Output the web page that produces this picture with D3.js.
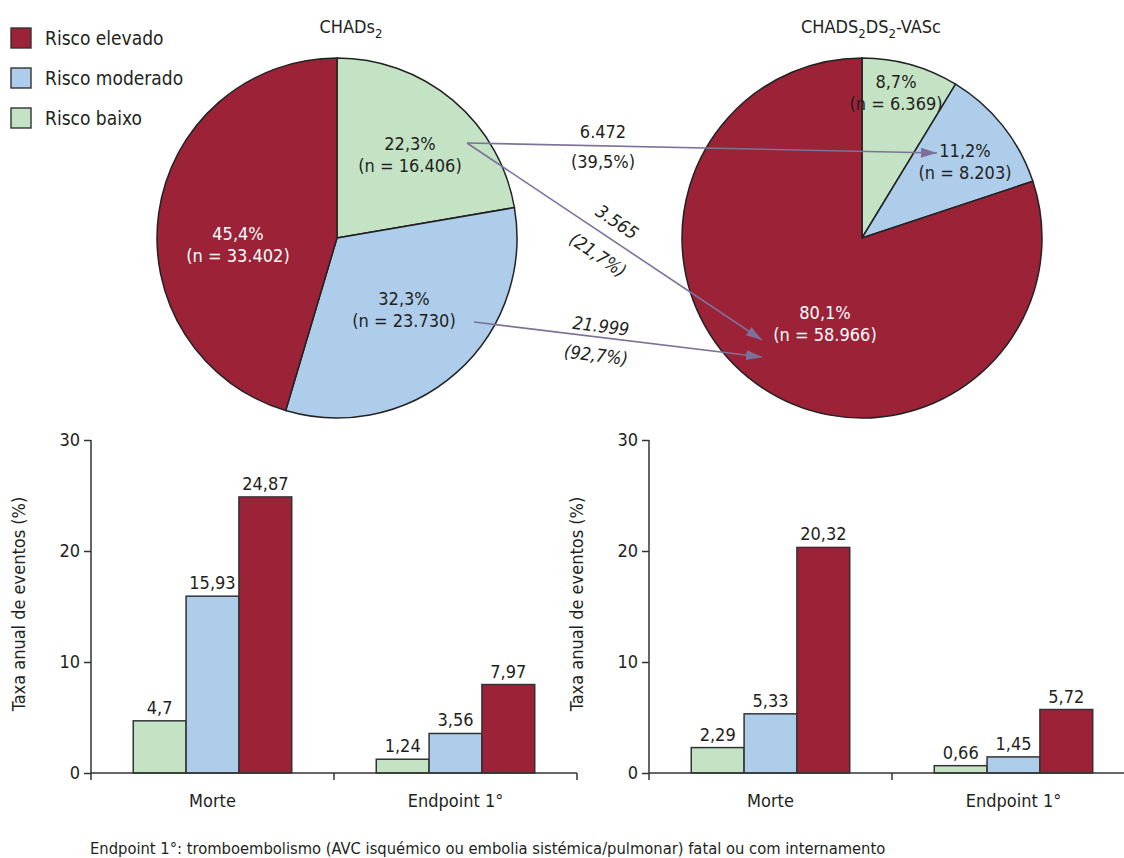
<!DOCTYPE html>
<html>
<head>
<meta charset="utf-8">
<script src="https://cdn.jsdelivr.net/npm/d3@7"></script>
<style>
  html, body { margin: 0; padding: 0; background: #fff; }
  svg { display: block; }
  text { font-family: "Liberation Sans Narrow", "DejaVu Sans Condensed", "Roboto", sans-serif; fill: #231f20; }
</style>
</head>
<body>
<svg id="chart" width="1124" height="858"></svg>
<script>
// Risk classes (pie order, clockwise from 12 o'clock, and bar order)
const riskKeys = ["baixo", "moderado", "elevado"];
const riskNames = ["Risco baixo", "Risco moderado", "Risco elevado"];
const riskColors = ["#c4e3c5", "#aecdeb", "#9b2237"];

// Distribution of patients by score
const chadsPct = [22.3, 32.3, 45.4];
const chadsN = [16406, 23730, 33402];
const vascPct = [8.7, 11.2, 80.1];
const vascN = [6369, 8203, 58966];

// Reclassification flows
const flowCounts = [6472, 3565, 21999];
const flowPct = [39.5, 21.7, 92.7];

// Annual event rates (%)
const eventCategories = ["Morte", "Endpoint 1°"];
const chadsMorte = [4.7, 15.93, 24.87];
const chadsEndpoint = [1.24, 3.56, 7.97];
const vascMorte = [2.29, 5.33, 20.32];
const vascEndpoint = [0.66, 1.45, 5.72];
const yTicks = [0, 10, 20, 30];

const locale = d3.formatLocale({decimal: ",", thousands: ".", grouping: [3], currency: ["", ""]});
const fmtN = locale.format(",");
const fmtV = locale.format("~g");
const fmtP = v => locale.format(".1f")(v) + "%";

const svg = d3.select("#chart");
const FS = 18;
const ink = "#231f20";

// ---------- Legend ----------
const legendOrder = [2, 1, 0];
legendOrder.forEach((k, i) => {
  const y = 28 + i * 40;
  svg.append("rect").attr("x", 11).attr("y", y).attr("width", 20).attr("height", 20)
    .attr("fill", riskColors[k]).attr("stroke", "#333").attr("stroke-width", 1.4);
  svg.append("text").attr("x", 45).attr("y", y + 17).attr("font-size", 19).text(riskNames[k]);
});

// ---------- Pies ----------
const R = 180;
const pie = d3.pie().sort(null).value(d => d);
const arc = d3.arc().innerRadius(0).outerRadius(R);

function drawPie(cx, cy, pct, n, labelPos) {
  const g = svg.append("g").attr("transform", `translate(${cx},${cy})`);
  const arcs = pie(pct);
  g.selectAll("path").data(arcs).join("path")
    .attr("d", arc)
    .attr("fill", (d, i) => riskColors[i])
    .attr("stroke", "#222").attr("stroke-width", 1.5);
  arcs.forEach((d, i) => {
    const [lx, ly] = labelPos[i];
    const col = i === 2 ? "#fff" : ink;
    const t = g.append("text").attr("text-anchor", "middle").attr("font-size", FS)
      .style("fill", col);
    t.append("tspan").attr("x", lx).attr("y", ly - 4).text(fmtP(pct[i]));
    t.append("tspan").attr("x", lx).attr("y", ly + 18).text(`(n = ${fmtN(n[i])})`);
  });
  return g;
}

drawPie(337, 238, chadsPct, chadsN, [[73, -84], [67, 71], [-99, 6]]);
drawPie(862, 238, vascPct, vascN, [[34, -146], [103, -77], [-37, 85]]);

// Titles with subscripts
function subTitle(x, y, parts) {
  const t = svg.append("text").attr("x", x).attr("y", y).attr("text-anchor", "middle").attr("font-size", FS);
  let shift = 0;
  parts.forEach(([s, sub]) => {
    const target = sub ? 5 : 0;
    const ts = t.append("tspan").attr("dy", target - shift).text(s);
    if (sub) ts.attr("font-size", 13);
    shift = target;
  });
}
subTitle(351, 33, [["CHADs"], ["2", true]]);
subTitle(871, 33, [["CHADS"], ["2", true], ["DS"], ["2", true], ["-VASc"]]);

// ---------- Reclassification arrows ----------
const arrowCol = "#7d7199";
const defs = svg.append("defs");
defs.append("marker").attr("id", "head").attr("viewBox", "0 0 16 10")
  .attr("refX", 16).attr("refY", 5).attr("markerWidth", 16).attr("markerHeight", 10)
  .attr("markerUnits", "userSpaceOnUse").attr("orient", "auto")
  .append("path").attr("d", "M0,0 L16,5 L0,10 Z").attr("fill", arrowCol);

const flows = [
  {from: [467, 143], to: [937, 153]},
  {from: [467, 143], to: [762, 340]},
  {from: [474, 322], to: [762, 357]}
];
flows.forEach(f => {
  svg.append("line").attr("x1", f.from[0]).attr("y1", f.from[1])
    .attr("x2", f.to[0]).attr("y2", f.to[1])
    .attr("stroke", arrowCol).attr("stroke-width", 1.6).attr("marker-end", "url(#head)");
});

function flowLabel(x, y, rot, italic, str) {
  svg.append("text").attr("text-anchor", "middle").attr("font-size", FS)
    .attr("font-style", italic ? "italic" : "normal")
    .attr("transform", `translate(${x},${y}) rotate(${rot})`)
    .attr("dy", "0.35em").text(str);
}
flowLabel(603, 132, 0, false, fmtN(flowCounts[0]));
flowLabel(603, 162, 0, false, `(${fmtP(flowPct[0])})`);
flowLabel(617, 222, 34, true, fmtN(flowCounts[1]));
flowLabel(598, 255, 34, true, `(${fmtP(flowPct[1])})`);
flowLabel(601, 326, 7, true, fmtN(flowCounts[2]));
flowLabel(596, 355, 7, true, `(${fmtP(flowPct[2])})`);

// ---------- Bar charts ----------
function drawBars(x0px, morte, endpoint) {
  const yTop = 440, yBase = 773, axisLen = 486;
  const y = d3.scaleLinear().domain([0, 30]).range([yBase, yTop]);
  const xg = d3.scaleBand().domain(eventCategories).range([x0px, x0px + axisLen]).padding(0);
  const xs = d3.scaleBand().domain(riskKeys).range([0, xg.bandwidth()]).paddingInner(0).paddingOuter(0.8);
  const g = svg.append("g");
  const rows = [morte, endpoint];

  eventCategories.forEach((cat, ci) => {
    const gg = g.append("g").attr("transform", `translate(${xg(cat)},0)`);
    riskKeys.forEach((k, ki) => {
      const v = rows[ci][ki];
      gg.append("rect").attr("x", xs(k)).attr("width", xs.bandwidth())
        .attr("y", y(v)).attr("height", y(0) - y(v))
        .attr("fill", riskColors[ki]).attr("stroke", "#333").attr("stroke-width", 1.5);
      gg.append("text").attr("x", xs(k) + xs.bandwidth() / 2).attr("y", y(v) - 7)
        .attr("text-anchor", "middle").attr("font-size", FS).text(fmtV(v));
    });
    g.append("text").attr("x", xg(cat) + xg.bandwidth() / 2).attr("y", 807)
      .attr("text-anchor", "middle").attr("font-size", FS).text(cat);
  });

  // x axis baseline and group separators
  g.append("line").attr("x1", x0px).attr("x2", x0px + axisLen).attr("y1", yBase).attr("y2", yBase)
    .attr("stroke", "#333").attr("stroke-width", 1.5);
  [xg.range()[0] + xg.bandwidth(), x0px + axisLen].forEach(xx => {
    g.append("line").attr("x1", xx).attr("x2", xx).attr("y1", yBase).attr("y2", yBase + 7)
      .attr("stroke", "#333").attr("stroke-width", 1.5);
  });

  // y axis
  const ax = g.append("g").attr("transform", `translate(${x0px},0)`)
    .call(d3.axisLeft(y).tickValues(yTicks).tickSize(7).tickPadding(4).tickFormat(d3.format("d")));
  ax.attr("font-family", null);
  ax.select(".domain").attr("d", `M0,${yTop}V${yBase + 7}`).attr("stroke", "#333").attr("stroke-width", 1.5);
  ax.selectAll(".tick line").attr("stroke", "#333").attr("stroke-width", 1.5);
  ax.selectAll(".tick text").attr("font-size", FS).attr("fill", ink);

  svg.append("text").attr("text-anchor", "middle").attr("font-size", FS)
    .attr("transform", `translate(${x0px - 72},${604}) rotate(-90)`)
    .attr("dy", "0.35em").text("Taxa anual de eventos (%)");
}
drawBars(91, chadsMorte, chadsEndpoint);
drawBars(649, vascMorte, vascEndpoint);

// Footnote
svg.append("text").attr("x", 90).attr("y", 854).attr("font-size", 16.4)
  .text("Endpoint 1°: tromboembolismo (AVC isquémico ou embolia sistémica/pulmonar) fatal ou com internamento");
</script>
</body>
</html>
